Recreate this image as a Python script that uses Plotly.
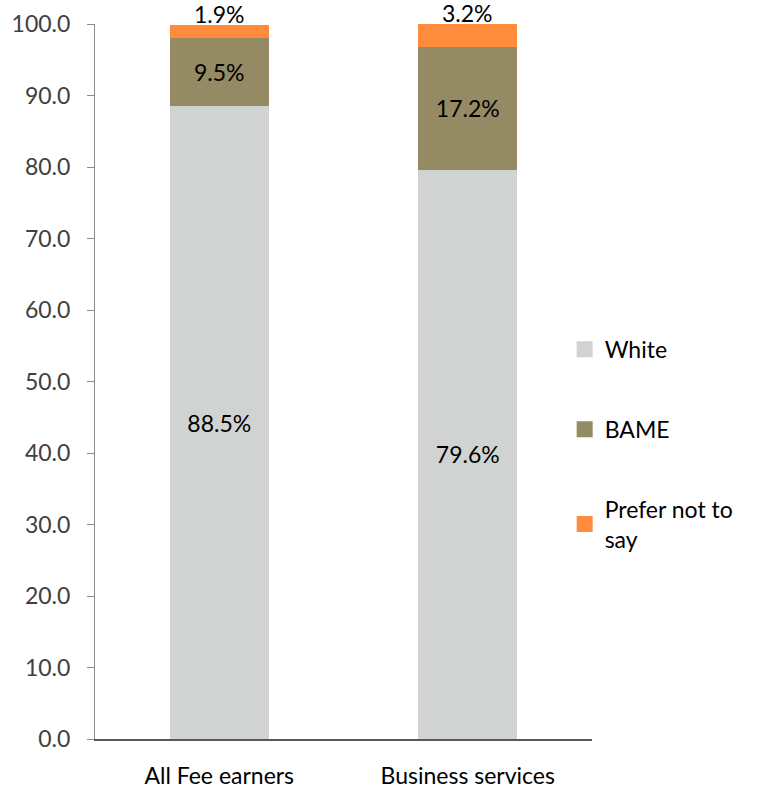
import plotly.graph_objects as go

categories = ["All Fee earners", "Business services"]
white = [88.5, 79.6]
bame = [9.5, 17.2]
prefer = [1.9, 3.2]
series_names = ["White", "BAME", "Prefer not to<br>say"]
colors = ["#D1D3D2", "#948A63", "#FF8B3D"]
y_ticks = [0, 10, 20, 30, 40, 50, 60, 70, 80, 90, 100]

FONT = "Lato"
FS = 23

fig = go.Figure()
for name, vals, col, pos in zip(series_names, [white, bame, prefer], colors,
                                 ["inside", "inside", "none"]):
    fig.add_trace(go.Bar(
        x=categories, y=vals, name=name, marker=dict(color=col, line=dict(width=0)),
        text=[f"{v:.1f}%" for v in vals], textposition=pos,
        insidetextanchor="middle", textangle=0, constraintext="none",
        textfont=dict(family=FONT, size=FS, color="#000000"),
        cliponaxis=False, showlegend=False,
    ))
    # legend entry with a larger square swatch
    fig.add_trace(go.Scatter(
        x=[None], y=[None], mode="markers", name=name, legendgroup=name,
        marker=dict(symbol="square", size=16, color=col),
        showlegend=True,
    ))

# labels for the top segment, sitting on the bar top
for cat, w, b, p in zip(categories, white, bame, prefer):
    fig.add_annotation(x=cat, y=w + b + p, text=f"{p:.1f}%", showarrow=False,
                       xanchor="center", yanchor="bottom", yshift=-5,
                       font=dict(family=FONT, size=FS, color="#000000"))

fig.update_layout(
    barmode="stack", bargap=0.6,
    width=766, height=792,
    margin=dict(l=95, r=174, t=24, b=53, autoexpand=False),
    paper_bgcolor="white", plot_bgcolor="white",
    font=dict(family=FONT, size=FS, color="#000000"),
    legend=dict(x=0.945, y=0.575, xanchor="left", yanchor="top",
                traceorder="grouped", tracegroupgap=47,
                font=dict(family=FONT, size=FS, color="#000000"),
                itemwidth=30, bgcolor="rgba(0,0,0,0)"),
    xaxis=dict(showline=True, linecolor="#595959", linewidth=1.5,
               ticks="", showgrid=False, zeroline=False, automargin=False,
               tickfont=dict(family=FONT, size=FS, color="#000000"),
               ticklabelstandoff=16),
    yaxis=dict(range=[0, 100], tickvals=y_ticks, tickformat=".1f",
               showline=True, linecolor="#8C8C8C", linewidth=1,
               ticks="outside", ticklen=7, tickcolor="#8C8C8C",
               showgrid=False, zeroline=False, automargin=False,
               tickfont=dict(family=FONT, size=FS, color="#404040"),
               ticklabelstandoff=12),
)

fig.write_html("out.html", config={"displayModeBar": False},
               post_script="document.body.style.margin='0';")
